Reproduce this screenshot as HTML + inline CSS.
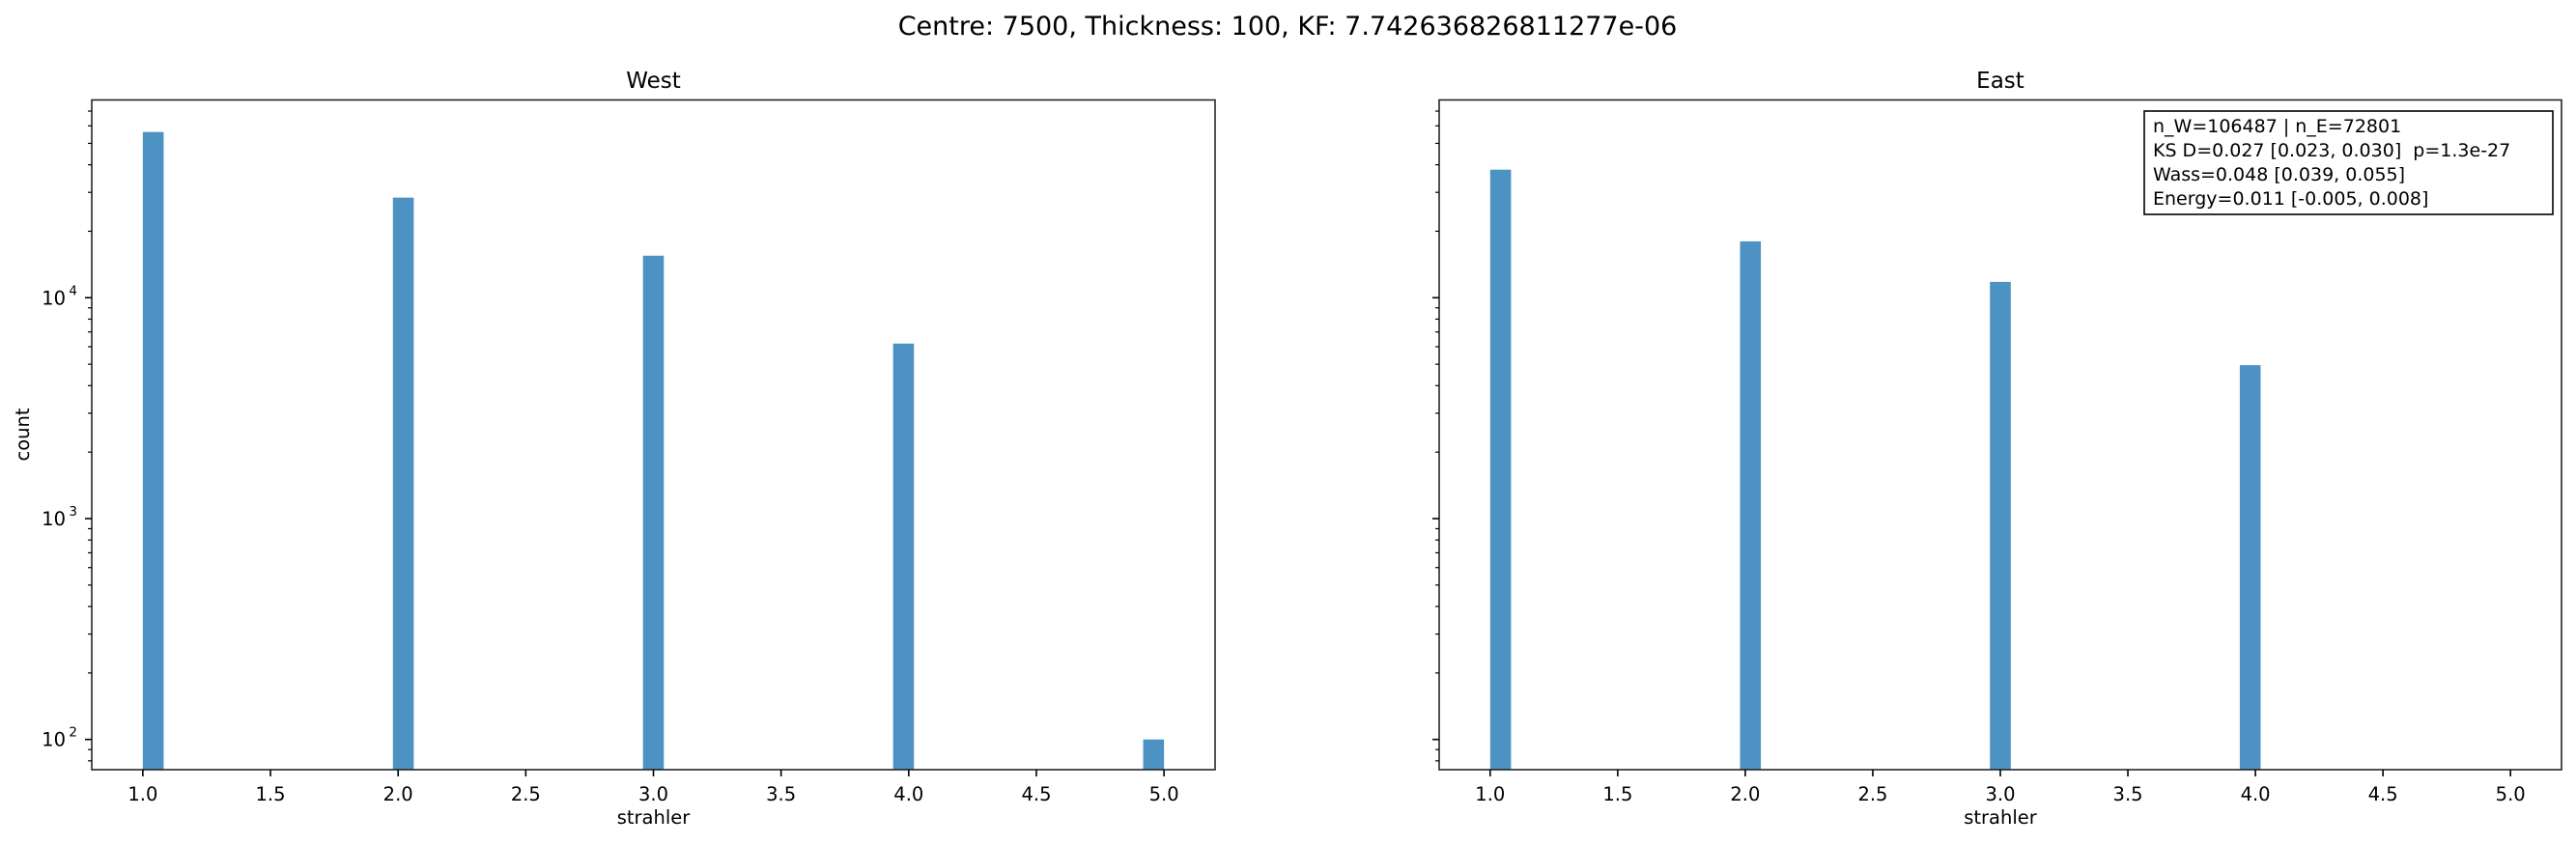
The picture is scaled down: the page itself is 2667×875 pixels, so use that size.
<!DOCTYPE html>
<html><head><meta charset="utf-8"><style>
html,body{margin:0;padding:0;background:#fff;}
svg{display:block;font-family:"DejaVu Sans","Liberation Sans",sans-serif;}
.pre{white-space:pre;}
</style></head><body>
<svg id="fig" width="2667" height="875" viewBox="0 0 2667 875" xmlns="http://www.w3.org/2000/svg">
<text x="1333" y="36" font-size="27" text-anchor="middle" fill="#000">Centre: 7500, Thickness: 100, KF: 7.742636826811277e-06</text>
</svg>
<script>
const categories = [1, 2, 3, 4, 5];
const westValues = [56300, 28400, 15500, 6200, 100];
const eastValues = [38000, 18000, 11800, 4950, 0];
const xTicks = [1.0, 1.5, 2.0, 2.5, 3.0, 3.5, 4.0, 4.5, 5.0];
const yDecades = [2, 3, 4];
const annotationLines = ["n_W=106487 | n_E=72801", "KS D=0.027 [0.023, 0.030]  p=1.3e-27", "Wass=0.048 [0.039, 0.055]", "Energy=0.011 [-0.005, 0.008]"];

const NS = "http://www.w3.org/2000/svg";
const svgEl = document.getElementById('fig');
function mk(tag, attrs, parent){ const e=document.createElementNS(NS,tag); for(const k in attrs) e.setAttribute(k,attrs[k]); (parent||svgEl).appendChild(e); return e; }

const plotTop = 103.5, plotBottom = 797;
const yLogMin = 2 - (plotBottom-765.7)/228.7, yLogMax = 2 + (765.7-plotTop)/228.7;
function yScale(v){ const l=Math.log10(v); return plotBottom - (l-yLogMin)/(yLogMax-yLogMin)*(plotBottom-plotTop); }
const nBins = 49;
const binW = 4/nBins;
function binStart(c){ let b=Math.floor((c-1)/binW+1e-9); if(b>nBins-1) b=nBins-1; return 1+b*binW; }

function panel(left, right, title, values, name, showYLabels){
  const xs = v => left + (v-0.8)/(4.4)*(right-left);
  const g = mk('g', {});
  
  
  const bw = xs(1+binW)-xs(1.0);
  values.forEach((v,i)=>{
    if(v<=0) return;
    const y = yScale(v);
    const r = mk('rect', {x: xs(binStart(categories[i])), y: y, width: bw, height: plotBottom-y, fill:'#4c92c3'}, g);
    
    
  });
  const sp = mk('rect', {x:left, y:plotTop, width:right-left, height:plotBottom-plotTop, fill:'none', stroke:'#262626', 'stroke-width':1.6}, g);
  
  
  xTicks.forEach(t=>{
    const x = xs(t);
    mk('line', {x1:x, x2:x, y1:plotBottom, y2:plotBottom+7, stroke:'#000', 'stroke-width':1.6}, g);
    const tx = mk('text', {x:x, y:829, 'font-size':19.5, 'text-anchor':'middle', fill:'#000'}, g);
    tx.textContent = t.toFixed(1);
    
    
  });
  const xl = mk('text', {x:(left+right)/2, y:853, 'font-size':19.5, 'text-anchor':'middle', fill:'#000'}, g);
  xl.textContent = 'strahler';
  
  
  for(let d=1; d<=4; d++){
    for(let m=1; m<=9; m++){
      const v = m*Math.pow(10,d);
      const y = yScale(v);
      if(y<plotTop-0.5 || y>plotBottom+0.5) continue;
      const len = m===1 ? 7 : 4;
      mk('line', {x1:left-len, x2:left, y1:y, y2:y, stroke:'#000', 'stroke-width': m===1?1.6:1.2}, g);
    }
  }
  if(showYLabels){
    yDecades.forEach(d=>{
      const y = yScale(Math.pow(10,d));
      const t = mk('text', {x:68, y:y+7, 'font-size':19.5, 'text-anchor':'end', fill:'#000'}, g);
      t.textContent = '10';
      const s = mk('text', {x:80, y:y-3, 'font-size':13.5, 'text-anchor':'end', fill:'#000'}, g);
      s.textContent = String(d);
      
      
      
      
    });
    const yl = mk('text', {x:0, y:0, 'font-size':19.5, 'text-anchor':'middle', fill:'#000', transform:'translate(30,450) rotate(-90)'}, g);
    yl.textContent = 'count';
    
    
  }
  const tt = mk('text', {x:(left+right)/2, y:91, 'font-size':23, 'text-anchor':'middle', fill:'#000'}, g);
  tt.textContent = title;
  
  
}
panel(95, 1258, 'West', westValues, 'west', true);
panel(1490, 2652, 'East', eastValues, 'east', false);

const ab = mk('g', {});


mk('rect', {x:2220, y:115, width:423, height:107, fill:'#fff', stroke:'#000', 'stroke-width':1.6}, ab);
annotationLines.forEach((s,i)=>{
  const t = mk('text', {x:2229, y:137+i*25, 'font-size':19, fill:'#000', 'class':'pre'}, ab);
  t.textContent = s;
  
  
});
</script>
</body></html>
